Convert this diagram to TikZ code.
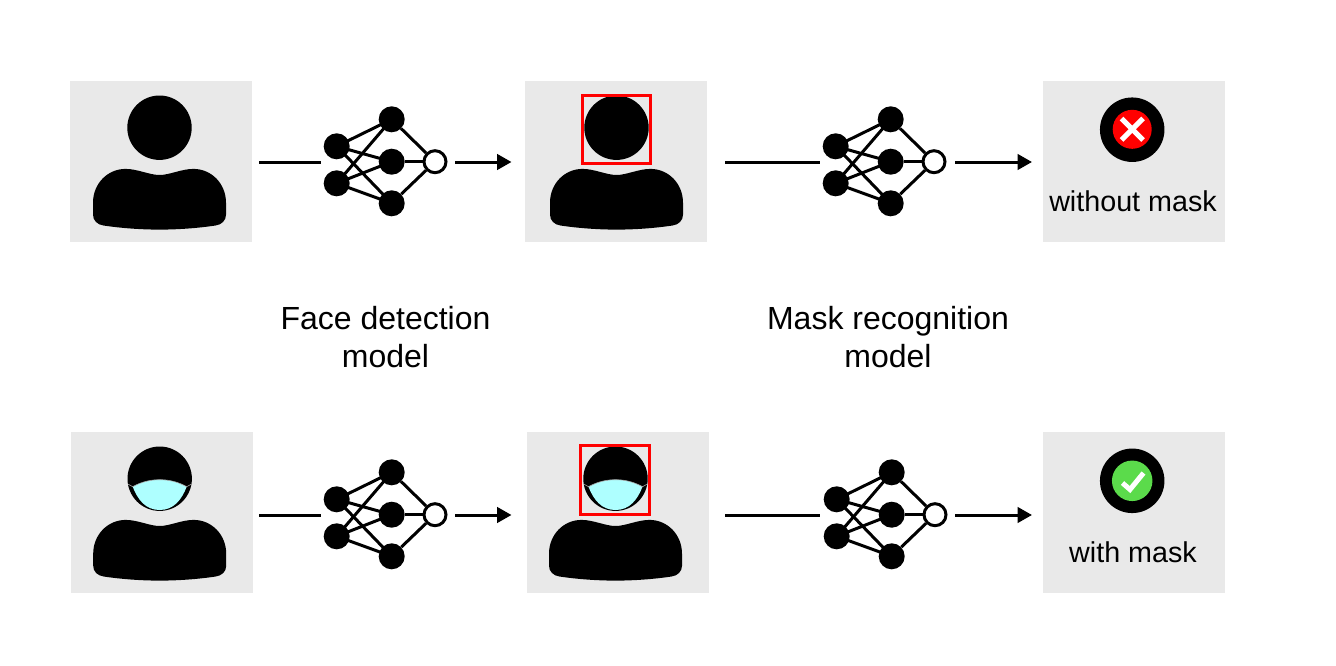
\documentclass[tikz,border=0pt]{standalone}
\usepackage{fontspec}
\setmainfont{Liberation Sans}
\definecolor{panelgray}{HTML}{E9E9E9}
\definecolor{maskcyan}{HTML}{AEFFFF}
\definecolor{okgreen}{HTML}{5BDB4B}
\tikzset{
  panel/.style={fill=panelgray,draw=none,minimum width=182pt,minimum height=161pt,inner sep=0pt,outer sep=0pt},
  neuron/.style={circle,fill=black,draw=none,minimum size=26pt,inner sep=0pt},
  outneuron/.style={circle,fill=white,draw=black,line width=3pt,minimum size=22pt,inner sep=0pt},
  synapse/.style={line width=3pt,black},
  flow/.style={line width=3pt,black},
  flowtip/.style={flow,-{Triangle[length=14.5pt,width=15.5pt]}},
  caption/.style={align=center,font=\fontsize{32}{38}\selectfont,inner sep=0pt},
  result/.style={font=\fontsize{28.7}{30}\selectfont,inner sep=0pt},
  redbox/.style={draw=red,line width=3pt,fill=none},
}
\usetikzlibrary{arrows.meta}
\newcommand{\personshape}[2]{%
  \begin{scope}[shift={(#1,#2)}]
    \fill[black] (0,0) circle[radius=32.2];
    \fill[black] (0,47.3)
      .. controls (10,47.3) and (22,41.2) .. (34,41.2)
      .. controls (52,41.2) and (66.5,56) .. (66.5,75)
      -- (66.5,87)
      .. controls (66.5,93) and (62,97) .. (56,97.8)
      .. controls (38,100.5) and (18,101.9) .. (0,101.9)
      .. controls (-18,101.9) and (-38,100.5) .. (-56,97.8)
      .. controls (-62,97) and (-66.5,93) .. (-66.5,87)
      -- (-66.5,75)
      .. controls (-66.5,56) and (-52,41.2) .. (-34,41.2)
      .. controls (-22,41.2) and (-10,47.3) .. (0,47.3) -- cycle;
  \end{scope}}
\newcommand{\maskshape}[2]{%
  \begin{scope}[shift={(#1,#2)}]
    \fill[maskcyan] (-27,8)
      .. controls (-18,3) and (-9,1) .. (0,1)
      .. controls (9,1) and (18,3) .. (27,8)
      .. controls (22,21) and (14,31.3) .. (0,31.3)
      .. controls (-14,31.3) and (-22,21) .. (-27,8) -- cycle;
    \draw[gray!70,line width=0.6pt] (-31.5,5.5) -- (-27,8) .. controls (-18,3) and (-9,1) .. (0,1) .. controls (9,1) and (18,3) .. (27,8) -- (31.5,5.5);
  \end{scope}}
% #1 prefix, #2 dx, #3 dy
\newcommand{\network}[3]{%
  \begin{scope}[shift={(#2,#3)}]
    \node[neuron] (#1a) at (336.7,146.3) {};
    \node[neuron] (#1b) at (336.7,183.3) {};
    \node[neuron] (#1c) at (391.7,119.3) {};
    \node[neuron] (#1d) at (391.7,161.7) {};
    \node[neuron] (#1e) at (391.7,203.3) {};
    \foreach \p in {a,b} \foreach \q in {c,d,e} \draw[synapse] (#1\p.center) -- (#1\q.center);
    \node[outneuron] (#1f) at (435,161.7) {};
    \foreach \q in {c,d,e} \draw[synapse] (#1\q) -- (#1f);
  \end{scope}}
\begin{document}
\begin{tikzpicture}[x=1pt,y=-1pt]
\useasboundingbox (0,0) rectangle (1336,665);
% panels
\node[panel] (p1) at (161,161.5) {};
\node[panel] (p2) at (616,161.5) {};
\node[panel] (p3) at (1134,161.5) {};
\node[panel] (p4) at (162,512.5) {};
\node[panel] (p5) at (618,512.5) {};
\node[panel] (p6) at (1134,512.5) {};
% people
\personshape{159.5}{127.7}
\personshape{616.5}{127.7}
\personshape{159.7}{478.7}
\personshape{615.5}{478.7}
\maskshape{159.7}{478.7}
\maskshape{615.5}{478.7}
% red boxes
\node[redbox,minimum width=68pt,minimum height=68pt,inner sep=0pt] (r1) at (616.5,129) {};
\node[redbox,minimum width=69pt,minimum height=69pt,inner sep=0pt] (r2) at (615.2,480) {};
% networks
\network{n}{0}{0}
\network{m}{499}{0}
\network{o}{0}{353}
\network{q}{500}{353}
% flow
\coordinate (s1) at (259,162); \coordinate (t1) at (321,162);
\coordinate (s2) at (455,162); \coordinate (t2) at (511.5,162);
\coordinate (s3) at (725,162); \coordinate (t3) at (820,162);
\coordinate (s4) at (955,162); \coordinate (t4) at (1032,162);
\coordinate (s5) at (259,515); \coordinate (t5) at (321,515);
\coordinate (s6) at (455,515); \coordinate (t6) at (511.5,515);
\coordinate (s7) at (725,515); \coordinate (t7) at (820,515);
\coordinate (s8) at (955,515); \coordinate (t8) at (1032,515);
\foreach \i in {1,3,5,7} \draw[flow] (s\i) -- (t\i);
\foreach \i in {2,4,6,8} \draw[flowtip] (s\i) -- (t\i);
% result icons
\node[circle,fill=black,minimum size=64.5pt,inner sep=0pt] (c1) at (1132.2,129.7) {};
\node[circle,fill=red,minimum size=39pt,inner sep=0pt] (c2) at (1132.2,129.3) {};
\draw[white,line width=5pt] (1121.5,118.5) -- (1143,140);
\draw[white,line width=5pt] (1143,118.5) -- (1121.5,140);
\node[circle,fill=black,minimum size=64.5pt,inner sep=0pt] (c3) at (1132.2,480.8) {};
\node[circle,fill=okgreen,minimum size=40.5pt,inner sep=0pt] (c4) at (1132.2,480.8) {};
\draw[white,line width=5pt] (1122.5,483) -- (1130,489.5) -- (1143.5,473);
% texts
\node[result] (w1) at (1133,201) {without mask};
\node[result] (w2) at (1133,552.5) {with mask};
\node[caption] (f) at (385.5,337) {Face detection\\model};
\node[caption] (g) at (888,337) {Mask recognition\\model};
\end{tikzpicture}
\end{document}
